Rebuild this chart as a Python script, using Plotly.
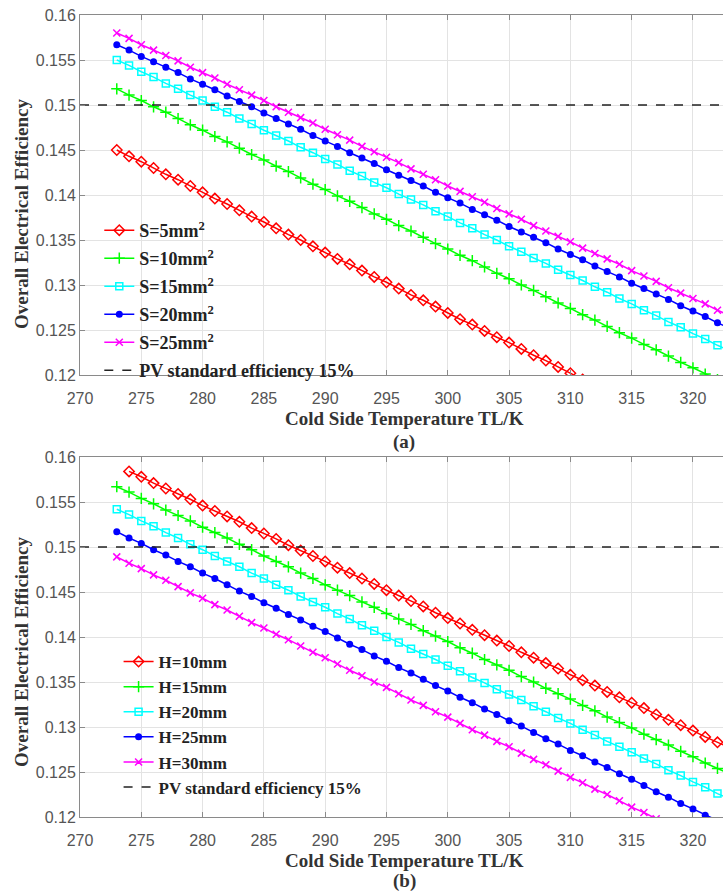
import plotly.graph_objects as go

# ---------------- data ----------------
T_TOP_S5 = list(range(273, 312))
EFF_S5 = [0.1450, 0.1443, 0.1437, 0.1430, 0.1423, 0.1417, 0.1410, 0.1403, 0.1396, 0.1390,
          0.1383, 0.1376, 0.1370, 0.1363, 0.1356, 0.1350, 0.1343, 0.1336, 0.1329, 0.1323,
          0.1316, 0.1309, 0.1303, 0.1296, 0.1289, 0.1283, 0.1276, 0.1269, 0.1262, 0.1256,
          0.1249, 0.1242, 0.1236, 0.1229, 0.1222, 0.1216, 0.1209, 0.1202, 0.1195]
T_TOP_S10 = list(range(273, 323))
EFF_S10 = [0.1518, 0.1511, 0.1505, 0.1498, 0.1492, 0.1485, 0.1478, 0.1472, 0.1465, 0.1459,
           0.1452, 0.1445, 0.1439, 0.1432, 0.1426, 0.1419, 0.1412, 0.1406, 0.1399, 0.1393,
           0.1386, 0.1379, 0.1373, 0.1366, 0.1360, 0.1353, 0.1346, 0.1340, 0.1333, 0.1327,
           0.1320, 0.1313, 0.1307, 0.1300, 0.1294, 0.1287, 0.1280, 0.1274, 0.1267, 0.1261,
           0.1254, 0.1247, 0.1241, 0.1234, 0.1228, 0.1221, 0.1214, 0.1208, 0.1201, 0.1195]
T_TOP_FULL = list(range(273, 324))
EFF_S15 = [0.1550, 0.1544, 0.1537, 0.1531, 0.1524, 0.1518, 0.1511, 0.1505, 0.1498, 0.1492,
           0.1485, 0.1479, 0.1472, 0.1466, 0.1460, 0.1453, 0.1447, 0.1440, 0.1434, 0.1427,
           0.1421, 0.1414, 0.1408, 0.1401, 0.1395, 0.1389, 0.1382, 0.1376, 0.1369, 0.1363,
           0.1356, 0.1350, 0.1343, 0.1337, 0.1330, 0.1324, 0.1317, 0.1311, 0.1305, 0.1298,
           0.1292, 0.1285, 0.1279, 0.1272, 0.1266, 0.1259, 0.1253, 0.1246, 0.1240, 0.1233,
           0.1227]
EFF_S20 = [0.1567, 0.1561, 0.1554, 0.1548, 0.1542, 0.1536, 0.1529, 0.1523, 0.1517, 0.1510,
           0.1504, 0.1498, 0.1491, 0.1485, 0.1479, 0.1473, 0.1466, 0.1460, 0.1454, 0.1447,
           0.1441, 0.1435, 0.1428, 0.1422, 0.1416, 0.1410, 0.1403, 0.1397, 0.1391, 0.1384,
           0.1378, 0.1372, 0.1365, 0.1359, 0.1353, 0.1347, 0.1340, 0.1334, 0.1328, 0.1321,
           0.1315, 0.1309, 0.1302, 0.1296, 0.1290, 0.1284, 0.1277, 0.1271, 0.1265, 0.1258,
           0.1252]
EFF_S25 = [0.1580, 0.1574, 0.1567, 0.1561, 0.1555, 0.1549, 0.1542, 0.1536, 0.1530, 0.1523,
           0.1517, 0.1511, 0.1505, 0.1498, 0.1492, 0.1486, 0.1480, 0.1473, 0.1467, 0.1461,
           0.1454, 0.1448, 0.1442, 0.1436, 0.1429, 0.1423, 0.1417, 0.1410, 0.1404, 0.1398,
           0.1392, 0.1385, 0.1379, 0.1373, 0.1366, 0.1360, 0.1354, 0.1348, 0.1341, 0.1335,
           0.1329, 0.1323, 0.1316, 0.1310, 0.1304, 0.1297, 0.1291, 0.1285, 0.1279, 0.1272,
           0.1266]

T_BOT_H10 = list(range(274, 324))
EFF_H10 = [0.1584, 0.1578, 0.1571, 0.1565, 0.1559, 0.1553, 0.1546, 0.1540, 0.1534, 0.1528,
           0.1521, 0.1515, 0.1509, 0.1502, 0.1496, 0.1490, 0.1484, 0.1477, 0.1471, 0.1465,
           0.1459, 0.1452, 0.1446, 0.1440, 0.1434, 0.1427, 0.1421, 0.1415, 0.1408, 0.1402,
           0.1396, 0.1390, 0.1383, 0.1377, 0.1371, 0.1365, 0.1358, 0.1352, 0.1346, 0.1339,
           0.1333, 0.1327, 0.1321, 0.1314, 0.1308, 0.1302, 0.1296, 0.1289, 0.1283, 0.1277]
T_BOT_FULL = list(range(273, 324))
EFF_H15 = [0.1567, 0.1561, 0.1554, 0.1548, 0.1541, 0.1535, 0.1529, 0.1522, 0.1516, 0.1510,
           0.1503, 0.1497, 0.1490, 0.1484, 0.1478, 0.1471, 0.1465, 0.1458, 0.1452, 0.1446,
           0.1439, 0.1433, 0.1426, 0.1420, 0.1414, 0.1407, 0.1401, 0.1395, 0.1388, 0.1382,
           0.1375, 0.1369, 0.1363, 0.1356, 0.1350, 0.1343, 0.1337, 0.1331, 0.1324, 0.1318,
           0.1311, 0.1305, 0.1299, 0.1292, 0.1286, 0.1280, 0.1273, 0.1267, 0.1260, 0.1254,
           0.1248]
EFF_H20 = [0.1542, 0.1536, 0.1529, 0.1523, 0.1516, 0.1510, 0.1503, 0.1497, 0.1490, 0.1484,
           0.1478, 0.1471, 0.1465, 0.1458, 0.1452, 0.1445, 0.1439, 0.1433, 0.1426, 0.1420,
           0.1413, 0.1407, 0.1400, 0.1394, 0.1387, 0.1381, 0.1375, 0.1368, 0.1362, 0.1355,
           0.1349, 0.1342, 0.1336, 0.1330, 0.1323, 0.1317, 0.1310, 0.1304, 0.1297, 0.1291,
           0.1284, 0.1278, 0.1272, 0.1265, 0.1259, 0.1252, 0.1246, 0.1239, 0.1233, 0.1226,
           0.1220]
T_BOT_H25 = list(range(273, 323))
EFF_H25 = [0.1517, 0.1510, 0.1504, 0.1497, 0.1491, 0.1484, 0.1478, 0.1471, 0.1465, 0.1458,
           0.1451, 0.1445, 0.1438, 0.1432, 0.1425, 0.1419, 0.1412, 0.1406, 0.1399, 0.1392,
           0.1386, 0.1379, 0.1373, 0.1366, 0.1360, 0.1353, 0.1346, 0.1340, 0.1333, 0.1327,
           0.1320, 0.1314, 0.1307, 0.1301, 0.1294, 0.1287, 0.1281, 0.1274, 0.1268, 0.1261,
           0.1255, 0.1248, 0.1242, 0.1235, 0.1228, 0.1222, 0.1215, 0.1209, 0.1202, 0.1196]
T_BOT_H30 = list(range(273, 318))
EFF_H30 = [0.1489, 0.1482, 0.1476, 0.1469, 0.1463, 0.1456, 0.1449, 0.1443, 0.1436, 0.1430,
           0.1423, 0.1416, 0.1410, 0.1403, 0.1397, 0.1390, 0.1383, 0.1377, 0.1370, 0.1363,
           0.1357, 0.1350, 0.1344, 0.1337, 0.1330, 0.1324, 0.1317, 0.1311, 0.1304, 0.1297,
           0.1291, 0.1284, 0.1278, 0.1271, 0.1264, 0.1258, 0.1251, 0.1244, 0.1238, 0.1231,
           0.1225, 0.1218, 0.1211, 0.1205, 0.1198]

PV_X = [270, 330]
PV_STANDARD = [0.15, 0.15]

TOP_NAMES = ["S=5mm<sup>2</sup>", "S=10mm<sup>2</sup>", "S=15mm<sup>2</sup>",
             "S=20mm<sup>2</sup>", "S=25mm<sup>2</sup>"]
BOT_NAMES = ["H=10mm", "H=15mm", "H=20mm", "H=25mm", "H=30mm"]
PV_NAME = "PV standard efficiency 15%"

X_TICKS = [270, 275, 280, 285, 290, 295, 300, 305, 310, 315, 320]
Y_TICKS = [0.12, 0.125, 0.13, 0.135, 0.14, 0.145, 0.15, 0.155, 0.16]
Y_TICK_TEXT = ["0.12", "0.125", "0.13", "0.135", "0.14", "0.145", "0.15", "0.155", "0.16"]

X_TITLE = "Cold Side Temperature TL/K"
Y_TITLE = "Overall Electrical Efficiency"
CAPTIONS = ["(a)", "(b)"]

# ---------------- styles ----------------
COLORS = ["#ff0000", "#00ff00", "#00ffff", "#0000ff", "#ff00ff"]
MARKERS = [
    dict(symbol="diamond-open", size=8, line=dict(width=1.5)),
    dict(symbol="cross-thin", size=8, line=dict(width=1.5)),
    dict(symbol="square-open", size=7, line=dict(width=1.5)),
    dict(symbol="circle", size=7, line=dict(width=0)),
    dict(symbol="x-thin", size=7, line=dict(width=1.5)),
]
SERIF = "Liberation Serif, Times New Roman, serif"
SANS = "Liberation Sans, Arial, sans-serif"

W, H = 723, 892
PLOT_L = 80
PLOT_W = W - PLOT_L
top_dom = [1 - 375 / H, 1 - 15 / H]
bot_dom = [1 - 817 / H, 1 - 457 / H]


def px_x(px):
    return (px - PLOT_L) / PLOT_W


def px_y(py):
    return 1 - py / H


fig = go.Figure()

top_series = [(T_TOP_S5, EFF_S5), (T_TOP_S10, EFF_S10), (T_TOP_FULL, EFF_S15),
              (T_TOP_FULL, EFF_S20), (T_TOP_FULL, EFF_S25)]
bot_series = [(T_BOT_H10, EFF_H10), (T_BOT_FULL, EFF_H15), (T_BOT_FULL, EFF_H20),
              (T_BOT_H25, EFF_H25), (T_BOT_H30, EFF_H30)]


def add_panel(series, names, xa, ya, legend, tag):
    for i, ((xs, ys), nm) in enumerate(zip(series, names)):
        m = dict(MARKERS[i])
        m["color"] = COLORS[i]
        m["line"] = dict(m["line"], color=COLORS[i])
        fig.add_trace(go.Scatter(
            x=xs, y=ys, mode="lines+markers", name="<b>" + nm + "</b>",
            line=dict(color=COLORS[i], width=1.5), marker=m,
            xaxis=xa, yaxis=ya, legend=legend, legendgroup=f"{tag}{i}",
        ))
    fig.add_trace(go.Scatter(
        x=PV_X, y=PV_STANDARD, mode="lines", name="<b>" + PV_NAME + "</b>",
        line=dict(color="#222222", width=1.5, dash="dash"),
        xaxis=xa, yaxis=ya, legend=legend, legendgroup=f"{tag}pv",
    ))


add_panel(top_series, TOP_NAMES, "x", "y", "legend", "top")
add_panel(bot_series, BOT_NAMES, "x2", "y2", "legend2", "bot")

axis_common = dict(
    showgrid=True, gridcolor="#e3e3e3", gridwidth=1,
    showline=True, linecolor="#8a8a8a", linewidth=1,
    ticks="inside", ticklen=5, tickcolor="#8a8a8a",
    tickfont=dict(family=SANS, size=16, color="#555555"),
    zeroline=False, automargin=False,
)

xcommon = dict(axis_common, range=[270, 322.45], tickvals=X_TICKS, mirror="ticks",
               domain=[0, 1], ticklabelstandoff=9)
ycommon = dict(axis_common, range=[0.12, 0.16], tickvals=Y_TICKS, ticktext=Y_TICK_TEXT,
               mirror=False)

title_font = dict(family=SERIF, size=19, color="#333333")

fig.update_layout(
    width=W, height=H,
    margin=dict(l=PLOT_L, r=0, t=0, b=0),
    paper_bgcolor="white", plot_bgcolor="white",
    showlegend=True,
    xaxis=dict(xcommon, anchor="y"),
    yaxis=dict(ycommon, domain=top_dom, anchor="x"),
    xaxis2=dict(xcommon, anchor="y2"),
    yaxis2=dict(ycommon, domain=bot_dom, anchor="x2"),
    legend=dict(x=0.03, y=px_y(212), xanchor="left", yanchor="top",
                bgcolor="rgba(0,0,0,0)", borderwidth=0, itemwidth=30,
                font=dict(family=SERIF, size=18, color="#222222"), tracegroupgap=1.6),
    legend2=dict(x=0.06, y=px_y(644), xanchor="left", yanchor="top",
                 bgcolor="rgba(0,0,0,0)", borderwidth=0, itemwidth=30,
                 font=dict(family=SERIF, size=17, color="#222222"), tracegroupgap=0),
    annotations=[
        dict(text="<b>" + X_TITLE + "</b>", x=px_x(404), y=px_y(418), xref="paper",
             yref="paper", showarrow=False, font=title_font, yanchor="middle"),
        dict(text="<b>" + X_TITLE + "</b>", x=px_x(404), y=px_y(860), xref="paper",
             yref="paper", showarrow=False, font=title_font, yanchor="middle"),
        dict(text="<b>" + CAPTIONS[0] + "</b>", x=px_x(404), y=px_y(442), xref="paper",
             yref="paper", showarrow=False, font=title_font, yanchor="middle"),
        dict(text="<b>" + CAPTIONS[1] + "</b>", x=px_x(404), y=px_y(881), xref="paper",
             yref="paper", showarrow=False, font=title_font, yanchor="middle"),
        dict(text="<b>" + Y_TITLE + "</b>", x=px_x(21), y=px_y(214), xref="paper",
             yref="paper", showarrow=False, font=title_font, textangle=-90,
             xanchor="center", yanchor="middle"),
        dict(text="<b>" + Y_TITLE + "</b>", x=px_x(21), y=px_y(652), xref="paper",
             yref="paper", showarrow=False, font=title_font, textangle=-90,
             xanchor="center", yanchor="middle"),
    ],
)

fig.write_html("out.html")
